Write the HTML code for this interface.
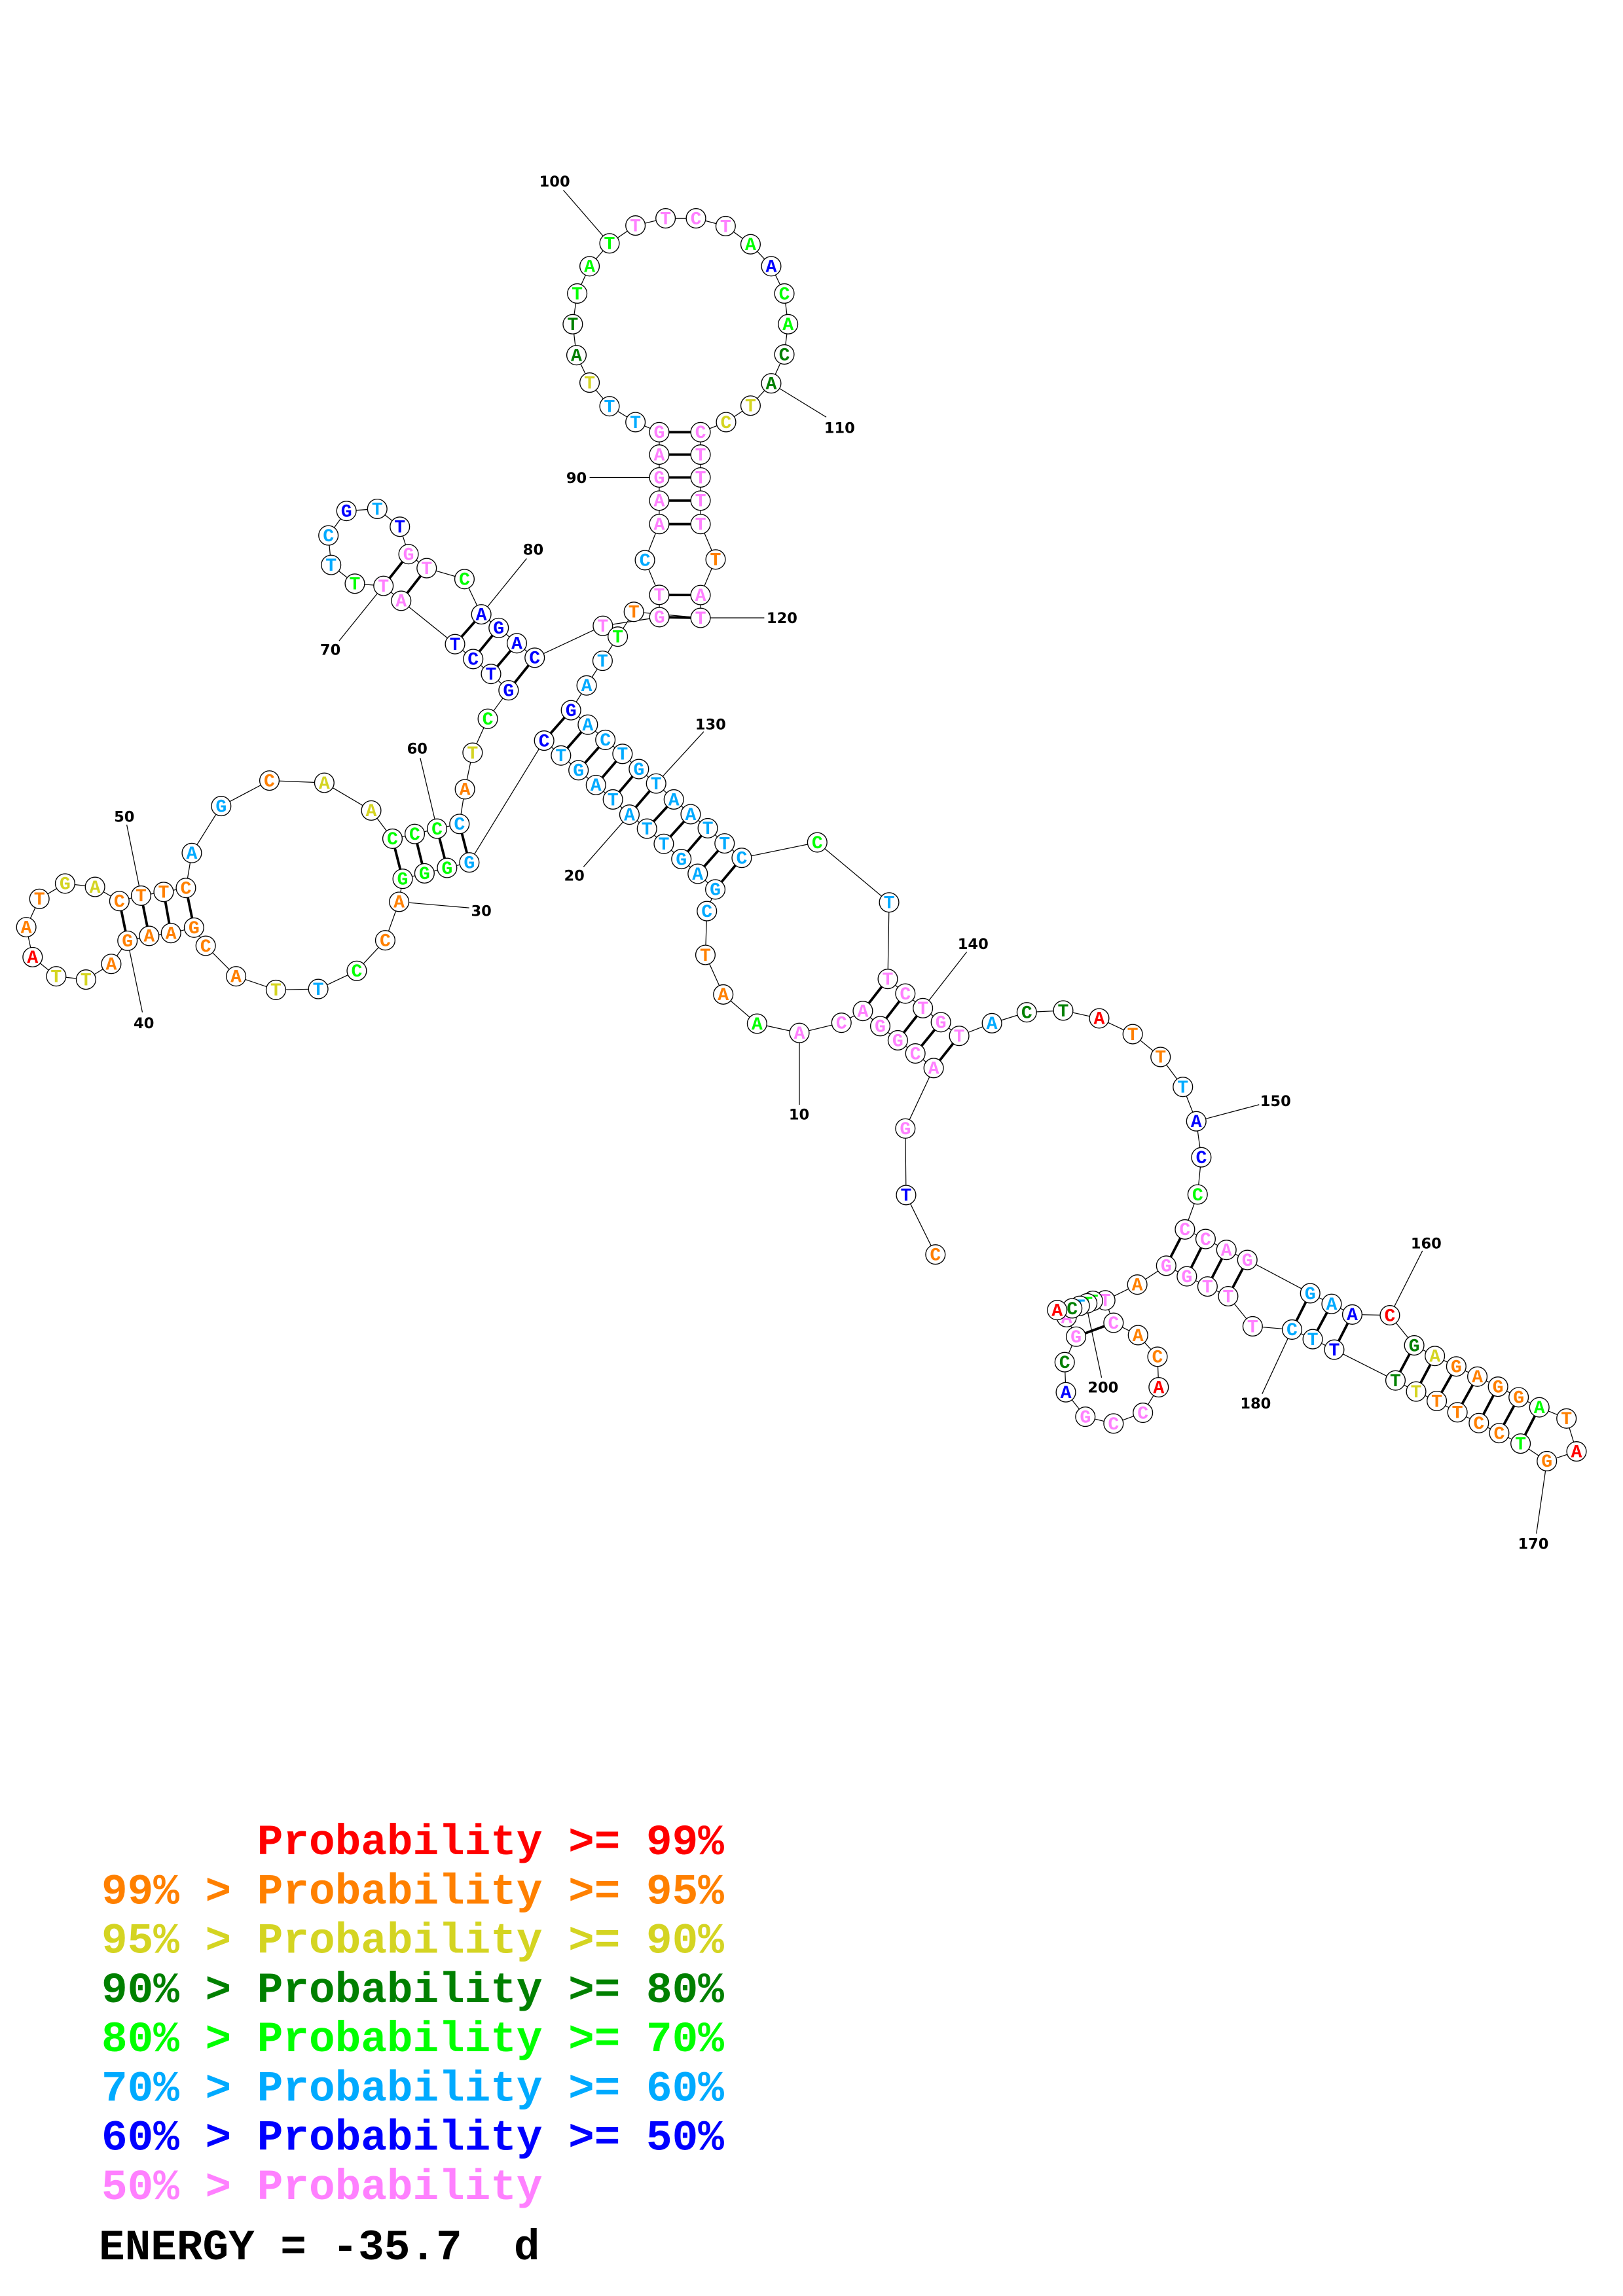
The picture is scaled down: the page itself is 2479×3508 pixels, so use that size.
<!DOCTYPE html>
<html><head><meta charset="utf-8">
<style>
html,body{margin:0;padding:0;background:#fff;}
svg{display:block;}
.lg text{white-space:pre;}
</style></head>
<body>
<svg id="s" xmlns="http://www.w3.org/2000/svg" width="2479" height="3508" viewBox="0 0 1100 1556.6">
<rect x="0" y="0" width="1100" height="1557" fill="#fff"/>
<g id="dg" transform="translate(0,0)"></g>
<g class="lg" font-family="'Liberation Mono','DejaVu Sans Mono',monospace" font-weight="bold" font-size="29.3" xml:space="preserve">
<text x="68.8" y="1257.1" fill="#ff0000" style="white-space:pre">      Probability &gt;= 99%</text>
<text x="68.8" y="1290.5" fill="#ff8000" style="white-space:pre">99% &gt; Probability &gt;= 95%</text>
<text x="68.8" y="1323.9" fill="#d4d422" style="white-space:pre">95% &gt; Probability &gt;= 90%</text>
<text x="68.8" y="1357.3" fill="#008000" style="white-space:pre">90% &gt; Probability &gt;= 80%</text>
<text x="68.8" y="1390.7" fill="#00ff00" style="white-space:pre">80% &gt; Probability &gt;= 70%</text>
<text x="68.8" y="1424.1" fill="#00aaff" style="white-space:pre">70% &gt; Probability &gt;= 60%</text>
<text x="68.8" y="1457.5" fill="#0000ff" style="white-space:pre">60% &gt; Probability &gt;= 50%</text>
<text x="68.8" y="1490.9" fill="#ff80ff" style="white-space:pre">50% &gt; Probability</text>
<text x="67" y="1531.8" fill="#000" style="white-space:pre">ENERGY = -35.7  d</text>
</g>
</svg>
<script>
(function(){
var R="#ff0000",O="#ff8000",Y="#d4d422",D="#008000",G="#00ff00",L="#00aaff",B="#0000ff",P="#ff80ff";
var N=[
[634.0,850.5,"C",O],[614.1,810.2,"T",B],[613.6,765.1,"G",P],[632.8,724.1,"A",P],[620.4,714.2,"C",P],
[608.5,705.3,"G",P],[596.6,695.7,"G",P],[584.8,685.4,"A",P],[570.3,693.4,"C",P],[541.8,700.3,"A",P],
[513.1,694.0,"A",G],[490.2,674.2,"A",O],[478.1,647.4,"T",O],[479.1,617.7,"C",L],[484.8,603.0,"G",L],
[472.9,592.4,"A",L],[461.8,582.4,"G",L],[449.9,572.1,"T",L],[438.5,561.8,"T",L],[426.6,552.3,"A",L],
[415.4,542.0,"T",L],[403.9,532.2,"A",L],[392.1,522.2,"G",L],[380.2,512.2,"T",L],[368.8,502.1,"C",B],
[318.1,584.7,"G",L],[303.0,588.4,"G",G],[287.7,592.1,"G",G],[272.9,595.8,"G",G],[270.5,611.4,"A",O],
[261.1,637.5,"C",O],[241.8,658.2,"C",G],[215.7,670.5,"T",L],[187.0,671.1,"T",Y],[160.0,661.9,"A",O],
[139.4,641.2,"C",O],[131.5,628.9,"G",O],[115.9,632.6,"A",O],[101.1,634.5,"A",O],[86.4,637.8,"G",O],
[75.4,653.5,"A",O],[58.3,664.1,"T",Y],[38.1,661.9,"T",Y],[22.1,648.9,"A",R],[17.8,628.6,"A",O],
[26.7,609.4,"T",O],[44.1,599.0,"G",Y],[64.4,601.3,"A",Y],[80.9,610.9,"C",O],[95.6,607.2,"T",O],
[110.9,604.7,"T",O],[126.0,602.0,"C",O],[130.0,578.3,"A",L],[149.9,546.5,"G",L],[182.6,529.2,"C",O],
[219.8,530.7,"A",Y],[251.6,549.5,"A",Y],[266.0,568.6,"C",G],[281.1,565.4,"C",G],[296.2,561.8,"C",G],
[311.4,558.6,"C",L],[315.1,535.1,"A",O],[320.3,510.3,"T",Y],[330.6,487.3,"C",G],[344.7,468.0,"G",B],
[332.8,456.9,"T",B],[320.7,446.8,"C",B],[308.4,436.7,"T",B],[271.9,407.3,"A",P],[259.9,397.2,"T",P],
[240.5,395.7,"T",G],[224.4,383.0,"T",L],[222.6,363.0,"C",L],[234.8,346.4,"G",B],[255.7,345.0,"T",L],
[271.0,357.1,"T",B],[276.9,375.7,"G",P],[289.2,385.2,"T",P],[314.8,392.6,"C",G],[326.2,416.5,"A",B],
[338.0,425.7,"G",B],[350.3,436.1,"A",B],[362.4,445.9,"C",B],[408.6,424.3,"T",P],[446.9,418.4,"G",P],
[446.8,403.3,"T",P],[437.1,379.8,"C",L],[446.8,355.3,"A",P],[446.8,339.4,"A",P],[446.8,323.7,"G",P],
[446.8,308.2,"A",P],[446.8,293.0,"G",P],[430.7,286.2,"T",L],[413.1,275.4,"T",L],[399.6,259.4,"T",Y],
[390.7,240.8,"A",D],[388.2,219.8,"T",D],[391.2,199.0,"T",G],[399.6,180.5,"A",G],[413.1,165.0,"T",G],
[430.7,152.9,"T",P],[451.1,148.0,"T",P],[471.7,148.0,"C",P],[491.8,153.3,"T",P],[508.7,165.6,"A",G],
[522.7,180.5,"A",B],[531.6,199.0,"C",G],[534.1,219.8,"A",G],[531.6,240.3,"C",D],[522.7,259.9,"A",D],
[508.7,275.0,"T",Y],[492.1,286.2,"C",Y],[474.8,293.0,"C",P],[474.8,308.2,"T",P],[474.8,323.7,"T",P],
[474.8,339.4,"T",P],[474.8,355.3,"T",P],[485.0,379.3,"T",O],[474.8,403.4,"A",P],[474.8,418.9,"T",P],
[429.6,414.8,"T",O],[418.7,431.6,"T",G],[408.4,448.0,"T",L],[397.6,464.7,"A",L],[387.0,481.5,"G",B],
[398.4,491.3,"A",L],[410.3,501.6,"C",L],[421.9,511.1,"T",L],[433.0,521.4,"G",L],[444.7,531.2,"T",L],
[456.7,542.0,"A",L],[468.1,552.0,"A",L],[479.7,561.5,"T",L],[491.1,571.8,"T",L],[502.7,581.6,"C",L],
[553.9,571.1,"C",G],[602.6,611.8,"T",L],[601.7,663.7,"T",P],[613.6,673.6,"C",P],[625.5,683.5,"T",P],
[637.7,693.0,"G",P],[650.1,702.3,"T",P],[672.3,693.7,"A",L],[695.9,686.3,"C",D],[720.6,685.1,"T",D],
[745.0,690.4,"A",R],[767.7,701.1,"T",O],[786.6,716.6,"T",O],[801.7,736.9,"T",L],[810.8,760.2,"A",B],
[814.2,784.6,"C",B],[811.7,809.8,"C",G],[803.1,833.5,"C",P],[817.1,840.0,"C",P],[831.2,847.4,"A",P],
[845.4,854.2,"G",P],[888.0,876.8,"G",L],[902.5,884.0,"A",L],[916.5,891.2,"A",B],[942.0,891.7,"C",R],
[958.5,912.1,"G",D],[972.5,919.3,"A",Y],[987.0,926.4,"G",O],[1001.3,933.3,"A",O],[1015.3,940.1,"G",O],
[1029.3,947.3,"G",O],[1043.3,954.1,"A",G],[1061.7,961.7,"T",O],[1068.5,984.0,"A",R],[1048.4,990.6,"G",O],
[1030.6,978.7,"T",G],[1016.1,971.6,"C",O],[1002.3,964.8,"C",O],[987.8,957.5,"T",O],[973.8,949.8,"T",O],
[959.8,943.4,"T",Y],[945.8,935.9,"T",D],[904.3,915.0,"T",B],[889.7,907.9,"T",L],[875.7,901.4,"C",L],
[849.0,899.2,"T",P],[832.4,878.8,"T",P],[818.4,872.2,"T",P],[804.4,865.3,"G",P],[790.4,858.1,"G",P],
[770.8,870.9,"A",O],[749.1,881.6,"T",P],[754.7,896.8,"C",P],[771.3,905.2,"A",O],[784.5,919.8,"C",O],
[785.3,940.5,"A",R],[774.6,957.8,"C",P],[754.7,965.1,"C",P],[735.6,960.5,"G",P],[722.4,943.9,"A",B],
[721.6,923.5,"C",D],[729.3,906.2,"G",P],[722.9,893.0,"A",P],[740.7,881.9,"T",G],[736.9,883.6,"T",G],
[731.8,885.3,"T",L],[726.7,887.0,"C",D],[716.5,888.2,"A",R]
];
var pairs=[[4,142],[5,141],[6,140],[7,139],[8,138],
[26,61],[27,60],[28,59],[29,58],[37,52],[38,51],[39,50],[40,49],
[65,83],[66,82],[67,81],[68,80],[69,78],[70,77],
[85,120],[86,119],[88,117],[89,116],[90,115],[91,114],[92,113],
[153,185],[154,184],[155,183],[156,182],[157,180],[158,179],[159,178],
[161,177],[162,176],[163,175],[164,174],[165,173],[166,172],[167,171],[188,197]];
for(var i=0;i<11;i++)pairs.push([15+i,135-i]);
var labels=[
["10",541.6,759,541.8,700.3,541.8,749],
["20",389.2,597,426.6,552.3,395.5,587.7],
["30",326.2,621,270.5,611.4,318,615.5],
["40",97.5,697,86.4,637.8,96.5,686.3],
["50",84.2,557,95.6,607.2,85.9,559.1],
["60",282.8,511,296.2,561.8,284.8,513.9],
["70",223.9,444,259.9,397.2,229.8,434.5],
["80",361.4,376,326.2,416.5,356.9,378.7],
["90",390.7,327.5,446.8,323.7,399.6,323.7],
["100",375.9,126.5,413.1,165.0,381.8,128.9],
["110",569,293.5,522.7,259.9,560,282.8],
["120",530,422.5,474.8,418.9,518,418.9],
["130",481.6,494.5,444.7,531.2,477,496],
["140",659.5,643.5,625.5,683.5,655.2,645.4],
["150",864.5,750,810.8,760.2,853.4,748.9],
["160",966.6,846.5,942.0,891.7,964.1,848],
["170",1039.2,1050,1048.4,990.6,1041.3,1039.8],
["180",851,955,875.7,901.4,855.4,945],
["200",747.6,944,737.4,890.4,746.6,934]
];
var ns="http://www.w3.org/2000/svg",g=document.getElementById("dg");
function el(t,a,p){var e=document.createElementNS(ns,t);for(var k in a)e.setAttribute(k,a[k]);(p||g).appendChild(e);return e;}
var pts=N.map(function(n){return n[0]+","+n[1];}).join(" ");
el("polyline",{points:pts,fill:"none",stroke:"#000","stroke-width":"0.55"});
labels.forEach(function(l){el("line",{x1:l[3],y1:l[4],x2:l[5],y2:l[6],stroke:"#000","stroke-width":"0.55"});});
pairs.forEach(function(p){var a=N[p[0]-1],b=N[p[1]-1];el("line",{x1:a[0],y1:a[1],x2:b[0],y2:b[1],stroke:"#000","stroke-width":"1.7"});});
N.forEach(function(n){
el("circle",{cx:n[0],cy:n[1],r:"6.6",fill:"#fff",stroke:"#000","stroke-width":"0.6"});
var t=el("text",{x:n[0],y:n[1]+3.9,"text-anchor":"middle","font-family":"'Liberation Mono','DejaVu Sans Mono',monospace","font-weight":"bold","font-size":"12.5",fill:n[3]});
t.textContent=n[2];
});
labels.forEach(function(l){var t=el("text",{x:l[1],y:l[2],"text-anchor":"middle","font-family":"'DejaVu Sans','Liberation Sans',sans-serif","font-weight":"bold","font-size":"10",fill:"#000"});t.textContent=l[0];});
})();
</script>
</body></html>
